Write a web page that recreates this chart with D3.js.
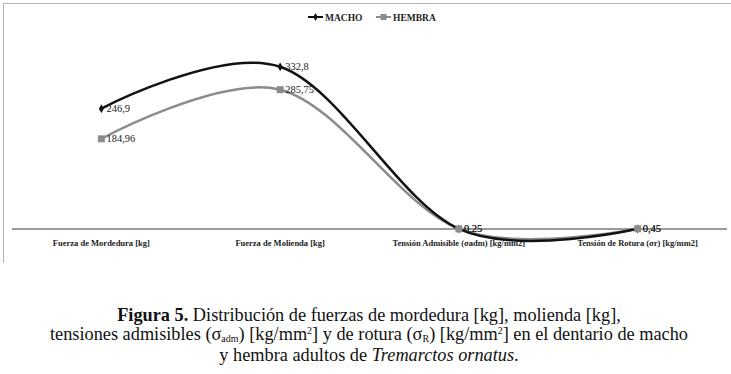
<!DOCTYPE html>
<html lang="es">
<head>
    <meta charset="utf-8" />
    <title>Figura 5</title>
    <script src="https://d3js.org/d3.v7.min.js"></script>
    <style>
        body { margin: 0; background: #fff; }
    </style>
</head>
<body>
<script>
    var w = 731;
    var h = 374;
    var serif = "'Liberation Serif', 'DejaVu Serif', 'Times New Roman', serif";

    // categories and series
    var categories = ["Fuerza de Mordedura [kg]", "Fuerza de Molienda [kg]",
        "Tensión Admisible  (σadm) [kg/mm2]", "Tensión de Rotura (σr)  [kg/mm2]"];
    var macho = [246.9, 332.8, 0.25, 0.45];
    var hembra = [184.96, 285.75, 0.25, 0.45];
    var machoLabels = ["246,9", "332,8", "0,25", "0,45"];
    var hembraLabels = ["184,96", "285,75", "0,25", "0,45"];
    var seriesNames = ["MACHO", "HEMBRA"];

    var svg = d3.select("body")
        .append("svg")
        .attr("width", w)
        .attr("height", h)
        .style("font-family", serif);

    // chart frame (left and top edges only visible)
    svg.append("path")
        .attr("d", "M3.5,263 V3.5 H731")
        .attr("fill", "none")
        .attr("stroke", "#b5b5b5")
        .attr("stroke-width", 1);

    var xScale = d3.scaleBand()
        .domain(categories)
        .range([12, 727]);

    var yScale = d3.scaleLinear()
        .domain([0, 400])
        .range([229, 34]);

    function cx(d, i) { return xScale(categories[i]) + xScale.bandwidth() / 2; }

    // horizontal axis line
    svg.append("line")
        .attr("x1", 12).attr("x2", 727)
        .attr("y1", yScale(0)).attr("y2", yScale(0))
        .attr("stroke", "#9a9a9a")
        .attr("stroke-width", 2);

    // category labels
    svg.selectAll("text.cat")
        .data(categories)
        .enter()
        .append("text")
        .attr("class", "cat")
        .attr("x", function(d) { return xScale(d) + xScale.bandwidth() / 2; })
        .attr("y", 246)
        .attr("text-anchor", "middle")
        .attr("font-family", serif)
        .attr("font-size", "8.5px")
        .attr("font-weight", "bold")
        .attr("fill", "#222")
        .text(function(d) { return d; });

    var line = d3.line()
        .x(function(d, i) { return cx(d, i); })
        .y(function(d) { return yScale(d); })
        .curve(d3.curveCardinal.tension(0));

    // HEMBRA
    svg.append("path")
        .datum(hembra)
        .attr("d", line)
        .attr("fill", "none")
        .attr("stroke", "#8c8c8c")
        .attr("stroke-width", 2.5);

    // MACHO
    svg.append("path")
        .datum(macho)
        .attr("d", line)
        .attr("fill", "none")
        .attr("stroke", "#111")
        .attr("stroke-width", 2.5);

    // markers (macho first, hembra squares on top)
    svg.selectAll("path.mm")
        .data(macho)
        .enter()
        .append("path")
        .attr("class", "mm")
        .attr("d", d3.symbol().type(d3.symbolDiamond).size(22))
        .attr("transform", function(d, i) {
            return "translate(" + cx(d, i) + "," + yScale(d) + ")";
        })
        .attr("fill", "#111");

    svg.selectAll("rect.hm")
        .data(hembra)
        .enter()
        .append("rect")
        .attr("class", "hm")
        .attr("x", function(d, i) { return cx(d, i) - 3.5; })
        .attr("y", function(d) { return yScale(d) - 3.5; })
        .attr("width", 7)
        .attr("height", 7)
        .attr("fill", "#8c8c8c");

    // data labels
    svg.selectAll("text.hl")
        .data(hembra)
        .enter()
        .append("text")
        .attr("class", "hl")
        .attr("x", function(d, i) { return cx(d, i) + 5; })
        .attr("y", function(d) { return yScale(d) + 3.5; })
        .attr("font-family", serif)
        .attr("font-size", "10.5px")
        .attr("fill", "#222")
        .text(function(d, i) { return hembraLabels[i]; });

    svg.selectAll("text.ml")
        .data(macho)
        .enter()
        .append("text")
        .attr("class", "ml")
        .attr("x", function(d, i) { return cx(d, i) + 5; })
        .attr("y", function(d) { return yScale(d) + 3.5; })
        .attr("font-family", serif)
        .attr("font-size", "10.5px")
        .attr("fill", "#222")
        .text(function(d, i) { return machoLabels[i]; });

    // legend
    var legend = svg.append("g");
    var legX = [308, 376];
    var legColor = ["#111", "#8c8c8c"];
    seriesNames.forEach(function(name, i) {
        legend.append("line")
            .attr("x1", legX[i]).attr("x2", legX[i] + 15)
            .attr("y1", 17).attr("y2", 17)
            .attr("stroke", legColor[i])
            .attr("stroke-width", 2);
        if (i === 0) {
            legend.append("path")
                .attr("d", d3.symbol().type(d3.symbolDiamond).size(18))
                .attr("transform", "translate(" + (legX[i] + 7.5) + ",17)")
                .attr("fill", legColor[i]);
        } else {
            legend.append("rect")
                .attr("x", legX[i] + 4.5).attr("y", 14)
                .attr("width", 6).attr("height", 6)
                .attr("fill", legColor[i]);
        }
        legend.append("text")
            .attr("x", legX[i] + 17)
            .attr("y", 20.5)
            .attr("font-family", serif)
            .attr("font-size", "9.5px")
            .attr("font-weight", "bold")
            .attr("fill", "#222")
            .text(name);
    });

    // caption
    var cap = svg.append("text")
        .attr("text-anchor", "middle")
        .attr("font-family", serif)
        .attr("font-size", "18.3px")
        .attr("fill", "#111");

    var l1 = cap.append("tspan").attr("x", 369).attr("y", 321);
    l1.append("tspan").attr("font-weight", "bold").text("Figura 5.");
    l1.append("tspan").text(" Distribución de fuerzas de mordedura [kg], molienda [kg],");

    var l2 = cap.append("tspan").attr("x", 369).attr("y", 340);
    l2.append("tspan").text("tensiones admisibles (σ");
    l2.append("tspan").attr("font-size", "10px").attr("baseline-shift", "-2").text("adm");
    l2.append("tspan").text(") [kg/mm");
    l2.append("tspan").attr("font-size", "10px").attr("baseline-shift", "6").text("2");
    l2.append("tspan").text("] y de rotura (σ");
    l2.append("tspan").attr("font-size", "10px").attr("baseline-shift", "-2").text("R");
    l2.append("tspan").text(") [kg/mm");
    l2.append("tspan").attr("font-size", "10px").attr("baseline-shift", "6").text("2");
    l2.append("tspan").text("] en el dentario de macho");

    var l3 = cap.append("tspan").attr("x", 369).attr("y", 361);
    l3.append("tspan").text("y hembra adultos de ");
    l3.append("tspan").attr("font-style", "italic").text("Tremarctos ornatus");
    l3.append("tspan").text(".");
</script>
</body>
</html>
